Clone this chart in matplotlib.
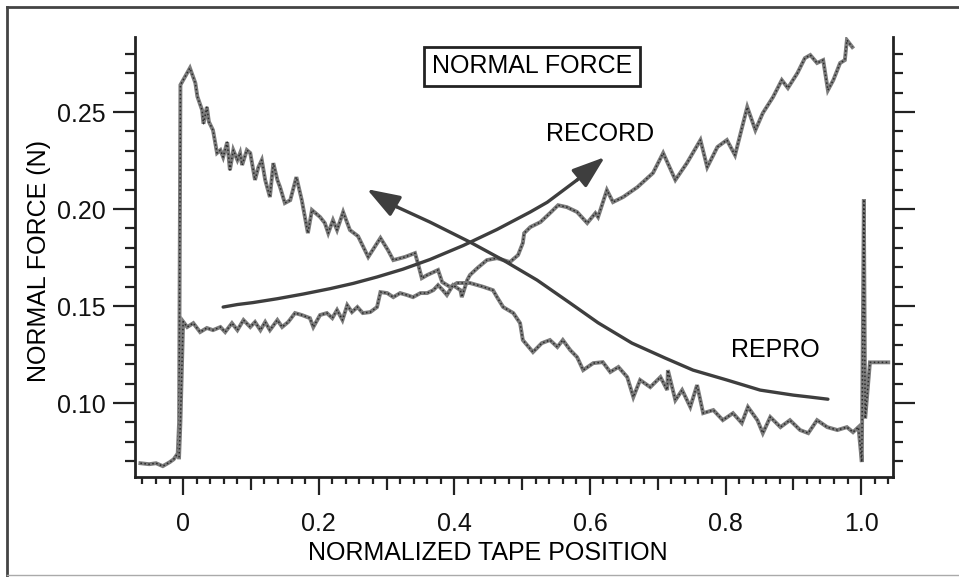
import numpy as np
import matplotlib

matplotlib.use("Agg")
import matplotlib.pyplot as plt
from matplotlib.lines import Line2D

plt.rcParams["font.family"] = ["Liberation Sans", "DejaVu Sans"]

# noisy trace that falls across the tape (repro head)
repro_x = [-0.063, -0.050, -0.040, -0.030, -0.020, -0.014, -0.008, -0.006, -0.004,
           0.010, 0.018, 0.021, 0.028, 0.030, 0.035, 0.038, 0.044, 0.050, 0.055,
           0.059, 0.065, 0.069, 0.074, 0.080, 0.084, 0.087, 0.094, 0.099, 0.106,
           0.111, 0.116, 0.121, 0.128, 0.133, 0.139, 0.143, 0.150, 0.158, 0.167,
           0.175, 0.184, 0.190, 0.202, 0.209, 0.214, 0.221, 0.227, 0.236, 0.246,
           0.258, 0.273, 0.291, 0.302, 0.310, 0.327, 0.342, 0.347, 0.352, 0.360,
           0.376, 0.382, 0.394, 0.404, 0.423, 0.442, 0.457, 0.463, 0.472, 0.487,
           0.497, 0.501, 0.516, 0.529, 0.541, 0.552, 0.560, 0.571, 0.581, 0.590,
           0.605, 0.619, 0.630, 0.642, 0.655, 0.664, 0.674, 0.689, 0.704, 0.714,
           0.715, 0.726, 0.736, 0.748, 0.758, 0.767, 0.782, 0.796, 0.811, 0.824,
           0.833, 0.847, 0.855, 0.866, 0.881, 0.895, 0.910, 0.922, 0.935, 0.950,
           0.965, 0.979, 0.988, 0.996, 1.001, 1.004, 1.006, 1.013, 1.040]
repro_y = [0.0690, 0.0685, 0.0690, 0.0675, 0.0695, 0.0710, 0.0740, 0.0900, 0.2640,
           0.2727, 0.2650, 0.2580, 0.2510, 0.2440, 0.2526, 0.2450, 0.2407, 0.2289, 0.2304,
           0.2268, 0.2345, 0.2201, 0.2304, 0.2253, 0.2289, 0.2227, 0.2304, 0.2289, 0.2150,
           0.2216, 0.2253, 0.2150, 0.2062, 0.2237, 0.2150, 0.2113, 0.2031, 0.2046, 0.2165,
           0.2046, 0.1876, 0.1995, 0.1959, 0.1928, 0.1876, 0.1943, 0.1892, 0.1985, 0.1892,
           0.1860, 0.1753, 0.1851, 0.1789, 0.1737, 0.1753, 0.1773, 0.1711, 0.1644, 0.1660,
           0.1686, 0.1624, 0.1598, 0.1619, 0.1619, 0.1600, 0.1582, 0.1546, 0.1495, 0.1464,
           0.1412, 0.1325, 0.1263, 0.1309, 0.1325, 0.1289, 0.1325, 0.1273, 0.1237, 0.1170,
           0.1206, 0.1211, 0.1160, 0.1186, 0.1134, 0.1031, 0.1119, 0.1082, 0.1134, 0.1067,
           0.1170, 0.1015, 0.1067, 0.0980, 0.1093, 0.0948, 0.0964, 0.0912, 0.0948, 0.0897,
           0.0980, 0.0912, 0.0845, 0.0928, 0.0876, 0.0912, 0.0861, 0.0845, 0.0912, 0.0876,
           0.0861, 0.0876, 0.0850, 0.0876, 0.0696, 0.2050, 0.0920, 0.1210, 0.1210]

# noisy trace that rises across the tape (record head)
record_x = [-0.006, -0.004, 0.000, 0.006, 0.015, 0.025, 0.035, 0.044, 0.055, 0.062,
            0.072, 0.080, 0.089, 0.099, 0.106, 0.114, 0.121, 0.128, 0.139, 0.146,
            0.155, 0.165, 0.175, 0.187, 0.192, 0.202, 0.212, 0.220, 0.227, 0.235,
            0.242, 0.249, 0.257, 0.265, 0.276, 0.286, 0.291, 0.301, 0.310, 0.320,
            0.330, 0.339, 0.350, 0.360, 0.369, 0.376, 0.383, 0.389, 0.398, 0.409,
            0.411, 0.419, 0.423, 0.434, 0.448, 0.463, 0.482, 0.494, 0.501, 0.503,
            0.512, 0.527, 0.541, 0.553, 0.566, 0.581, 0.596, 0.608, 0.612, 0.625,
            0.634, 0.649, 0.670, 0.693, 0.708, 0.726, 0.743, 0.763, 0.773, 0.788,
            0.802, 0.814, 0.832, 0.844, 0.855, 0.870, 0.883, 0.892, 0.906, 0.917,
            0.925, 0.935, 0.944, 0.951, 0.959, 0.969, 0.976, 0.979, 0.987]
record_y = [0.0720, 0.0900, 0.1420, 0.1392, 0.1412, 0.1366, 0.1387, 0.1376, 0.1392, 0.1366,
            0.1412, 0.1376, 0.1428, 0.1392, 0.1418, 0.1376, 0.1418, 0.1376, 0.1428, 0.1392,
            0.1418, 0.1464, 0.1454, 0.1438, 0.1392, 0.1454, 0.1464, 0.1438, 0.1480, 0.1428,
            0.1505, 0.1469, 0.1495, 0.1464, 0.1469, 0.1495, 0.1572, 0.1567, 0.1546, 0.1567,
            0.1557, 0.1546, 0.1567, 0.1567, 0.1582, 0.1608, 0.1582, 0.1557, 0.1608, 0.1582,
            0.1546, 0.1634, 0.1660, 0.1696, 0.1737, 0.1747, 0.1727, 0.1763, 0.1825, 0.1876,
            0.1907, 0.1933, 0.1979, 0.2020, 0.2010, 0.1985, 0.1928, 0.1979, 0.1959, 0.2098,
            0.2036, 0.2062, 0.2113, 0.2186, 0.2289, 0.2150, 0.2237, 0.2356, 0.2216, 0.2320,
            0.2356, 0.2278, 0.2526, 0.2407, 0.2495, 0.2577, 0.2665, 0.2624, 0.2701, 0.2778,
            0.2794, 0.2753, 0.2768, 0.2613, 0.2665, 0.2753, 0.2768, 0.2871, 0.2835]

# hand-drawn trend arrows (last point is the arrow tip)
rec_arrow_x = [0.059, 0.080, 0.103, 0.139, 0.177, 0.217, 0.251, 0.286, 0.324, 0.364,
               0.413, 0.463, 0.512, 0.537, 0.581, 0.622]
rec_arrow_y = [0.1495, 0.1508, 0.1518, 0.1538, 0.1562, 0.1590, 0.1617, 0.1650, 0.1690,
               0.1740, 0.1812, 0.1895, 0.1985, 0.2035, 0.2150, 0.2268]
rep_arrow_x = [0.951, 0.925, 0.900, 0.851, 0.802, 0.752, 0.711, 0.662, 0.612, 0.571,
               0.522, 0.472, 0.423, 0.364, 0.316, 0.271]
rep_arrow_y = [0.1020, 0.1031, 0.1041, 0.1067, 0.1119, 0.1170, 0.1232, 0.1309, 0.1414,
               0.1515, 0.1634, 0.1737, 0.1830, 0.1933, 0.2010, 0.2103]

x_major = [0, 0.2, 0.4, 0.6, 0.8, 1.0]
x_labels = ["0", "0.2", "0.4", "0.6", "0.8", "1.0"]
y_major = [0.10, 0.15, 0.20, 0.25]
y_labels = ["0.10", "0.15", "0.20", "0.25"]

TRACE = "#7c7c7c"
DOTS = "#2b2b2b"
ARROW = "#3e3e3e"

fig = plt.figure(figsize=(9.59, 5.77), dpi=100)
ax = fig.add_axes([135 / 959, 1 - 477 / 577, 758 / 959, 440 / 577])

for xs, ys in ((repro_x, repro_y), (record_x, record_y)):
    ax.plot(xs, ys, color=TRACE, lw=2.8, solid_joinstyle="miter")
    ax.plot(xs, ys, color=DOTS, lw=1.1, ls=(0, (1, 1.6)))

for xs, ys in ((rec_arrow_x, rec_arrow_y), (rep_arrow_x, rep_arrow_y)):
    ax.plot(xs[:-1], ys[:-1], color=ARROW, lw=2.4, solid_capstyle="round",
            solid_joinstyle="round")
    ax.annotate("", xy=(xs[-1], ys[-1]), xytext=(xs[-2], ys[-2]),
                arrowprops=dict(arrowstyle="-|>,head_length=20,head_width=7",
                                mutation_scale=1, color=ARROW, lw=2.4,
                                shrinkA=0, shrinkB=0))

ax.set_xlim(-0.071, 1.047)
ax.set_ylim(0.0619, 0.2887)

ax.set_xticks(x_major, x_labels)
ax.set_yticks(y_major, y_labels)
x_minor = [v for v in np.round(np.arange(-0.06, 1.05, 0.02), 2) if v not in x_major]
y_minor = [v for v in np.round(np.arange(0.07, 0.285, 0.01), 2) if v not in y_major]
ax.set_xticks(x_minor, minor=True)
ax.set_yticks(y_minor, minor=True)

ax.tick_params(which="both", direction="out", width=1.6, color="#222222",
               labelsize=18, labelcolor="#111111")
ax.tick_params(axis="y", which="both", right=True)
ax.tick_params(axis="y", which="major", length=16, pad=5)
ax.tick_params(axis="y", which="minor", length=7)
ax.tick_params(axis="x", which="major", length=13, pad=12)
ax.tick_params(axis="x", which="minor", length=5)
# half-way ticks (0.1, 0.3, ...) are a bit longer
for tick, loc in zip(ax.xaxis.get_minor_ticks(len(x_minor)), x_minor):
    if round(loc * 10) % 2 == 1 and abs(loc * 10 - round(loc * 10)) < 1e-6:
        tick.tick1line.set_markersize(9.5)

ax.spines["top"].set_visible(False)
for s in ("left", "right", "bottom"):
    ax.spines[s].set_linewidth(2)
    ax.spines[s].set_color("#222222")

ax.set_xlabel("NORMALIZED TAPE POSITION", fontsize=18, va="center")
ax.xaxis.set_label_coords(0.4657, -0.1727)
ax.set_ylabel("NORMAL FORCE (N)", fontsize=18, va="center")
ax.yaxis.set_label_coords(-0.126, 0.491)

ax.text(0.5237, 0.934, "NORMAL FORCE", transform=ax.transAxes, fontsize=18,
        ha="center", va="center",
        bbox=dict(boxstyle="square,pad=0.3", fc="white", ec="#222222", lw=2))
ax.text(0.615, 0.2387, "RECORD", fontsize=18, ha="center", va="center")
ax.text(0.873, 0.1273, "REPRO", fontsize=18, ha="center", va="center")

# scan border
fig.add_artist(Line2D([0.0073, 1.0], [0.988, 0.988], color="#444444", lw=2))
fig.add_artist(Line2D([0.0073, 0.0073], [0.0, 0.988], color="#444444", lw=2))
fig.add_artist(Line2D([0.0073, 1.0], [0.004, 0.004], color="#aaaaaa", lw=1))

fig.savefig("out.png", dpi=100)
